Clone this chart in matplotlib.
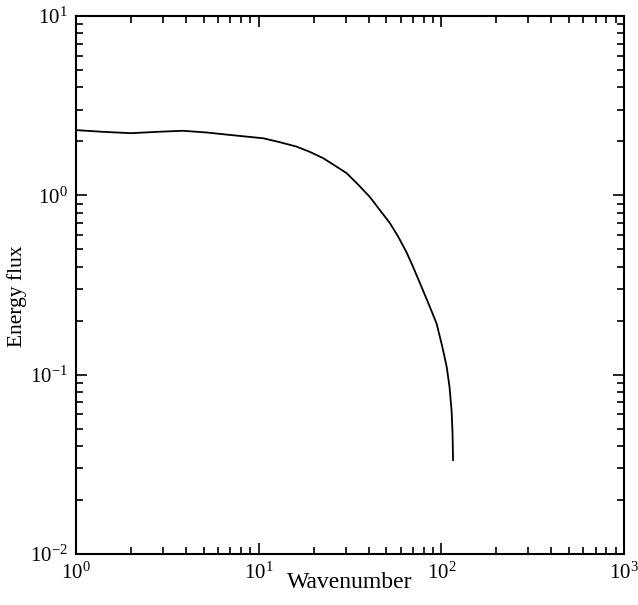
import numpy as np
import matplotlib
matplotlib.use("Agg")
import matplotlib.pyplot as plt
from matplotlib.ticker import LogLocator, NullFormatter

# values
wavenumber = [1.0, 1.4, 2.0, 2.8, 3.85, 5.2, 7.0, 10.6, 13.0, 16.1, 19.0,
              22.6, 26.0, 30.3, 35.0, 40.6, 46.0, 52.3, 58.0, 64.6, 70.0,
              76.4, 85.0, 94.2, 101.0, 107.0, 111.0, 113.8, 115.2, 116.0]
energy_flux = [2.31, 2.26, 2.22, 2.26, 2.29, 2.24, 2.17, 2.08, 1.98, 1.87, 1.75,
               1.61, 1.47, 1.33, 1.15, 0.98, 0.83, 0.70, 0.59, 0.48, 0.40,
               0.324, 0.25, 0.193, 0.145, 0.111, 0.085, 0.0635, 0.048, 0.0334]

plt.rcParams["font.family"] = ["Liberation Serif", "DejaVu Serif"]
plt.rcParams["mathtext.fontset"] = "stix"

fig = plt.figure(figsize=(6.38, 6.05), dpi=100)
ax = fig.add_axes([0.119, 0.0843, 0.859, 0.8893])

ax.plot(wavenumber, energy_flux, color="black", lw=1.3)

ax.set_xscale("log")
ax.set_yscale("log")
ax.set_xlim(1, 1000)
ax.set_ylim(0.01, 10)

ax.xaxis.set_major_locator(LogLocator(base=10))
ax.yaxis.set_major_locator(LogLocator(base=10))
ax.xaxis.set_minor_locator(LogLocator(base=10, subs=np.arange(2, 10)))
ax.yaxis.set_minor_locator(LogLocator(base=10, subs=np.arange(2, 10)))
ax.xaxis.set_minor_formatter(NullFormatter())
ax.yaxis.set_minor_formatter(NullFormatter())

ax.tick_params(which="both", direction="in", top=True, right=True,
               labelsize=15, width=1.2)
ax.tick_params(which="major", length=8, pad=6)
ax.tick_params(which="minor", length=5)
for s in ax.spines.values():
    s.set_linewidth(1.5)

ax.set_xlabel("Wavenumber", fontsize=17, labelpad=-8)
ax.set_ylabel("Energy flux", fontsize=15.5, labelpad=2)
ax.yaxis.set_label_coords(-0.09, 0.48)

fig.savefig("out.png", dpi=100)
